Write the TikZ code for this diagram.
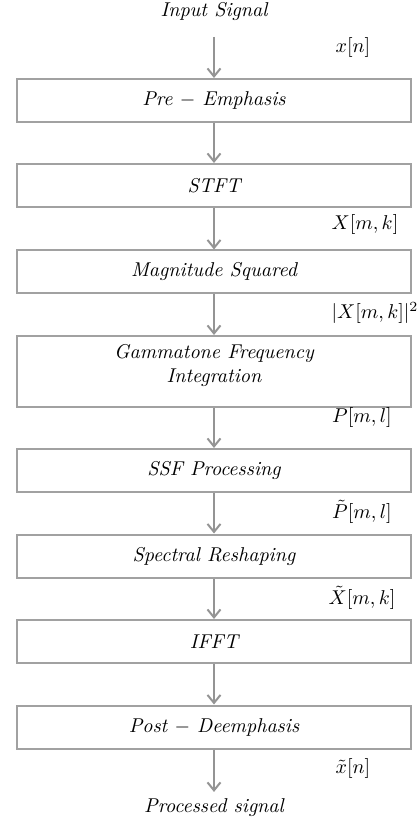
\documentclass[tikz,border=0pt]{standalone}
\usepackage{amsmath}
\usetikzlibrary{arrows.meta}

\begin{document}
\begin{tikzpicture}[
  x=0.5pt, y=-0.5pt,
  font=\normalsize\itshape,
  stage/.style={rectangle, draw=black!37, line width=1pt, minimum width=197pt,
    minimum height=21.5pt, inner sep=0pt, align=center},
  flow/.style={-{Straight Barb[length=4pt, width=6.5pt, line width=1pt]},
    draw=black!42, line width=1pt},
  signal/.style={inner sep=0pt}
]
  \useasboundingbox (0,0) rectangle (419,823);

  % Processing chain, top to bottom.
  \node (input) at (214,12) {Input Signal};
  \node[stage] (preemph) at (214,100.5) {Pre $-$ Emphasis};
  \node[stage] (stft) at (214,185.5) {STFT};
  \node[stage] (magsq) at (214,272) {Magnitude Squared};
  \node[stage, minimum height=35.5pt] (gamma) at (214,371.5)
    {Gammatone Frequency\\Integration\\[-4pt]};
  \node[stage] (ssf) at (214,470.5) {SSF Processing};
  \node[stage] (reshape) at (214,556) {Spectral Reshaping};
  \node[stage] (ifft) at (214,641.5) {IFFT};
  \node[stage] (postdeemph) at (214,727) {Post $-$ Deemphasis};
  \node (output) at (214,808) {Processed signal};

  \coordinate (instart) at (214,37);
  \draw[flow] (instart) -- (preemph);
  \foreach \a/\b in {preemph/stft, stft/magsq, magsq/gamma, gamma/ssf,
                     ssf/reshape, reshape/ifft, ifft/postdeemph} {
    \draw[flow] (\a) -- (\b);
  }
  \draw[flow] (postdeemph) -- (output);

  % Signal names beside the arrows.
  \node[signal] (xn) at (353,48) {$x[n]$};
  \node[signal] (Xmk) at (365,225) {$X[m,k]$};
  \node[signal] (Xsq) at (375,313) {$|X[m,k]|^2$};
  \node[signal] (Pml) at (362,417) {$P[m,l]$};
  \node[signal] (Ptml) at (362,512) {$\tilde{P}[m,l]$};
  \node[signal] (Xtmk) at (362,598) {$\tilde{X}[m,k]$};
  \node[signal] (xtn) at (353,768) {$\tilde{x}[n]$};
\end{tikzpicture}
\end{document}
